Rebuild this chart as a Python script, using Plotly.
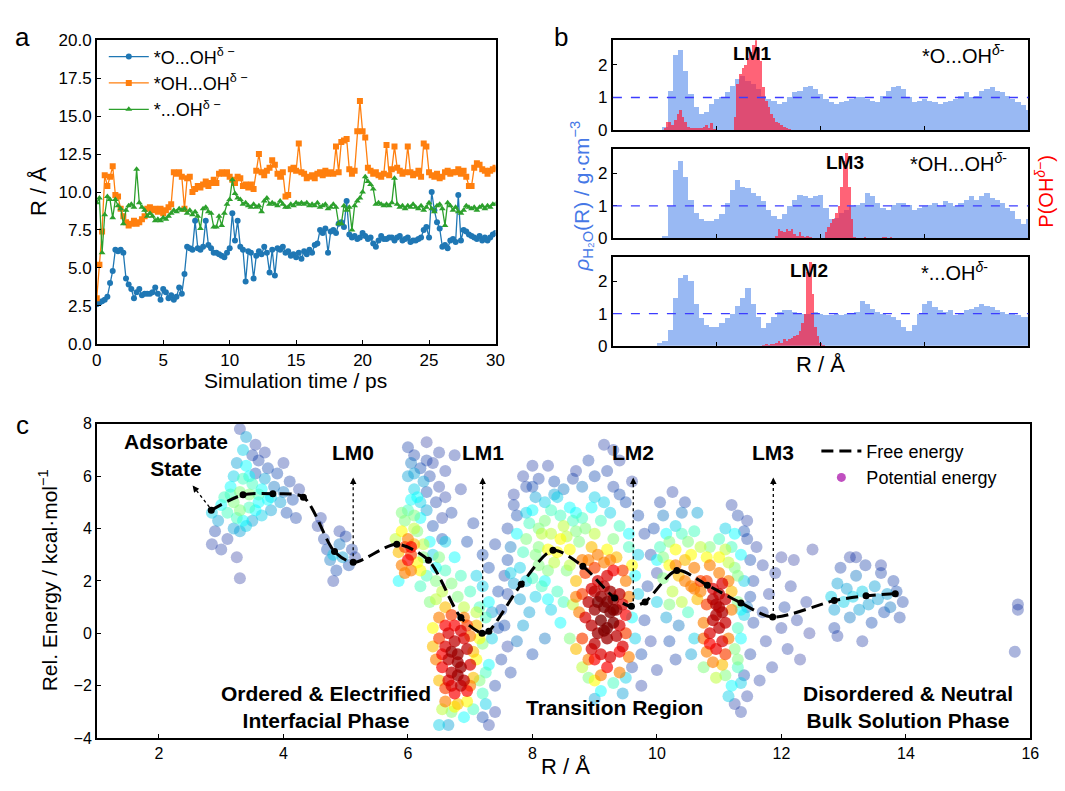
import plotly.graph_objects as go

FONT = "Liberation Sans, Arial, sans-serif"

# ---------------- panel a : R(t) ----------------
t_step_ps = 0.2
t_ps = [round(i * t_step_ps, 1) for i in range(151)]

r_O_OH = [2.6, 2.7, 2.8, 2.9, 3.1, 4.0, 4.8, 6.2, 6.1, 6.2,
          6.0, 4.3, 3.9, 3.6, 3.0, 3.4, 3.6, 3.2, 3.3, 3.3,
          3.3, 3.4, 3.7, 3.3, 2.9, 3.6, 3.4, 3.0, 3.2, 2.9,
          3.1, 3.7, 3.3, 4.6, 6.4, 6.3, 6.2, 8.1, 6.3, 6.2,
          6.4, 8.1, 6.5, 6.3, 6.0, 6.0, 5.9, 5.8, 5.7, 6.0,
          6.3, 8.6, 6.8, 8.1, 6.4, 6.2, 4.1, 6.1, 6.0, 4.3,
          5.8, 6.1, 5.9, 6.4, 6.0, 4.7, 6.2, 4.5, 6.3, 6.2,
          6.4, 6.0, 6.1, 5.8, 5.9, 5.7, 6.0, 5.6, 6.1, 5.9,
          6.2, 6.0, 6.5, 6.6, 7.5, 7.3, 7.6, 6.0, 7.4, 7.5,
          7.3, 7.9, 8.0, 7.7, 9.4, 7.2, 7.0, 7.1, 6.9, 7.0,
          7.3, 7.1, 6.9, 7.0, 6.6, 6.4, 6.8, 7.1, 6.9, 6.9,
          7.0, 7.0, 6.8, 7.0, 7.1, 6.8, 6.9, 7.0, 6.7, 6.8,
          6.8, 6.9, 7.0, 7.5, 7.7, 7.0, 10.0, 8.8, 8.0, 7.6,
          6.4, 6.5, 6.3, 6.8, 6.9, 6.7, 9.8, 6.8, 7.5, 7.4,
          7.2, 7.1, 7.0, 6.9, 7.1, 6.8, 7.0, 6.8, 7.0, 7.2,
          7.3]

r_OH_OH = [3.0, 5.2, 7.4, 11.1, 10.4, 11.0, 11.7, 9.8, 9.7, 8.9,
           8.4, 8.0, 7.8, 7.9, 8.1, 7.9, 8.0, 8.2, 8.4, 8.9,
           9.0, 8.8, 8.9, 8.7, 8.9, 8.6, 8.8, 9.0, 9.2, 11.3,
           11.2, 11.3, 11.0, 8.9, 10.9, 11.0, 10.0, 10.2, 10.4, 10.3,
           10.5, 10.7, 10.4, 10.6, 10.8, 10.6, 11.2, 11.3, 11.2, 11.3,
           11.0, 10.8, 10.6, 11.0, 10.9, 10.4, 10.5, 10.3, 10.5, 10.2,
           11.4, 12.5, 11.3, 11.1, 11.4, 11.6, 12.1, 11.8, 11.2, 11.0,
           11.3, 9.7, 9.8, 11.5, 11.6, 11.4, 13.2, 11.3, 11.2, 10.9,
           11.0, 11.1, 10.9, 11.2, 11.3, 11.1, 11.4, 11.2, 11.3, 11.2,
           13.0, 11.3, 13.3, 13.4, 13.5, 11.5, 11.2, 11.4, 14.0, 16.0,
           14.0, 13.6, 11.6, 11.4, 11.2, 11.3, 11.1, 11.0, 11.2, 13.1,
           11.1, 11.5, 13.0, 11.6, 11.4, 11.2, 11.3, 13.0, 11.3, 11.1,
           11.2, 11.4, 11.0, 13.2, 13.0, 11.3, 11.1, 11.0, 11.2, 10.9,
           11.0, 11.3, 11.4, 11.2, 11.3, 11.3, 11.5, 11.2, 11.4, 11.0,
           10.4, 10.4, 11.6, 11.9, 11.8, 11.5, 11.4, 11.2, 11.4, 11.5,
           11.6]

r_star_OH = [9.3, 9.6, 6.0, 8.5, 9.7, 9.5, 8.3, 9.5, 9.1, 8.9,
             7.9, 8.8, 9.1, 9.2, 9.0, 11.5, 9.3, 9.0, 8.8, 8.4,
             8.6, 8.4, 8.1, 8.2, 8.1, 8.3, 8.2, 8.4, 8.6, 8.8,
             8.7, 8.9, 8.8, 8.9, 8.6, 8.8, 8.5, 8.7, 8.4, 7.6,
             8.9, 9.0, 8.7, 8.6, 7.7, 7.7, 8.4, 7.8, 8.6, 9.2,
             9.5, 10.8, 9.9, 9.6, 9.5, 9.2, 9.3, 9.1, 9.0, 9.2,
             9.0, 9.1, 8.7, 9.4, 9.6, 9.2, 9.3, 9.2, 9.1, 9.4,
             9.2, 9.0, 9.0, 9.2, 9.1, 9.3, 9.2, 9.3, 9.2, 9.3,
             9.1, 9.2, 9.1, 9.3, 9.0, 9.1, 9.2, 8.9, 9.0, 9.2,
             9.0, 7.9, 7.9, 9.1, 8.8, 9.0, 7.5, 9.1, 9.4, 9.6,
             10.0, 11.0, 10.7, 10.5, 10.2, 9.2, 9.3, 9.2, 9.1, 9.2,
             9.1, 9.3, 10.9, 9.2, 9.0, 9.1, 8.9, 9.1, 9.0, 9.2,
             9.0, 8.9, 9.1, 8.8, 9.0, 9.3, 8.9, 8.7, 9.1, 9.2,
             8.9, 7.8, 9.3, 9.1, 8.8, 9.0, 8.7, 8.6, 8.8, 9.1,
             9.0, 8.9, 9.0, 8.8, 9.0, 9.1, 8.9, 9.1, 9.0, 9.2,
             9.2]

series_a = [
    ("*O...OH<sup>δ −</sup>", r_O_OH, "#1f77b4", "circle"),
    ("*OH...OH<sup>δ −</sup>", r_OH_OH, "#ff7f0e", "square"),
    ("*...OH<sup>δ −</sup>", r_star_OH, "#2ca02c", "triangle-up"),
]

# ---------------- panel b : water density + OH- probability ----------------
rho_step = 0.2
rho_R = [round(1.8 + rho_step * i, 1) for i in range(72)]

rho_O_OH = [0, 0.1, 1.2, 2.3, 2.45, 1.8, 1.1, 0.7, 0.5, 0.55,
            0.8, 0.95, 1.0, 1.15, 1.35, 1.55, 1.65, 1.5, 1.4, 1.25,
            1.05, 0.95, 0.9, 0.8, 0.85, 1.0, 1.15, 1.2, 1.3, 1.35,
            1.25, 1.1, 0.95, 0.85, 0.8, 0.85, 0.9, 0.95, 1.0, 1.0,
            0.95, 0.9, 0.85, 1.05, 1.2, 1.3, 1.35, 1.25, 1.0, 0.85,
            0.9, 0.95, 0.9, 0.85, 0.8, 0.85, 0.9, 0.95, 1.05, 1.15,
            1.0, 1.05, 1.2, 1.25, 1.3, 1.2, 1.15, 1.05, 0.95, 0.85,
            0.75, 0.6]
rho_OH_OH = [0, 0.1, 1.0, 2.1, 2.4, 1.9, 1.2, 0.8, 0.6, 0.55,
             0.55, 0.6, 0.75, 1.1, 1.5, 1.8, 1.6, 1.55, 1.4, 1.3,
             1.15, 0.9, 0.7, 0.6, 0.75, 1.0, 1.2, 1.35, 1.3, 1.25,
             1.3, 1.35, 0.95, 0.6, 0.65, 0.8, 0.9, 1.0, 1.05, 1.1,
             1.4, 1.3, 1.1, 0.95, 0.9, 1.05, 1.1, 1.1, 1.05, 0.9,
             0.95, 1.0, 1.05, 1.1, 1.0, 1.15, 1.1, 1.0, 1.1, 1.2,
             1.3, 1.2, 1.3, 1.4, 1.25, 1.2, 1.1, 0.95, 0.85, 0.6,
             0.45, 0.6]
rho_star_OH = [0.1, 0.15, 0.5, 1.5, 2.1, 2.2, 2.0, 1.3, 0.85, 0.65,
               0.6, 0.6, 0.7, 0.85, 1.0, 1.25, 1.5, 1.8, 1.3, 0.9,
               0.55, 0.7, 0.9, 1.05, 1.1, 1.1, 1.05, 1.0, 1.0, 1.0,
               1.05, 1.0, 0.95, 0.95, 1.0, 0.95, 1.0, 1.0, 1.05, 1.4,
               1.3, 1.15, 1.05, 1.0, 0.95, 0.9, 0.8, 0.6, 0.45, 0.65,
               1.0, 1.3, 1.4, 1.2, 1.1, 1.05, 1.1, 0.95, 1.0, 1.1,
               1.15, 1.2, 1.3, 1.25, 1.2, 1.1, 1.05, 1.0, 1.0, 0.95,
               0.9, 0.9]

p_R_O_OH = [2.0, 2.1, 2.2, 2.3, 2.4, 2.5, 2.6, 2.7, 2.8, 2.9,
            3.0, 3.1, 3.2, 3.3, 3.4, 3.5, 3.6, 3.7, 3.8, 3.9,
            4.7, 4.8, 4.9, 5.0, 5.1, 5.2, 5.3, 5.4, 5.5, 5.6,
            5.7, 5.8, 5.9, 6.0, 6.1, 6.2, 6.3, 6.4, 6.5, 6.6,
            6.7, 6.8]
p_O_OH = [0.05, 0.25, 0.25, 0.15, 0.3, 0.5, 0.6, 0.4, 0.25, 0.1,
          0.05, 0.05, 0.05, 0.04, 0.05, 0.1, 0.15, 0.05, 0.2, 0.03,
          0.4, 1.4, 1.7, 1.9, 2.0, 2.2, 2.4, 2.6, 2.75, 2.5,
          2.1, 1.3, 0.9, 0.7, 0.5, 0.35, 0.25, 0.2, 0.15, 0.08,
          0.05, 0.03]
p_R_OH_OH = [6.3, 6.4, 6.5, 6.6, 6.7, 6.8, 6.9, 7.0, 7.1, 7.2,
             7.3, 7.4, 7.5, 7.6, 7.7,
             8.2, 8.3, 8.4, 8.5, 8.6, 8.7, 8.8, 8.9, 9.0, 9.1, 9.2, 9.3,
             9.7, 9.8, 10.4, 10.5, 10.6, 10.7, 10.8]
p_OH_OH = [0.1, 0.3, 0.25, 0.2, 0.3, 0.25, 0.3, 0.15, 0.1, 0.2,
           0.1, 0.05, 0.1, 0.05, 0.03,
           0.2, 0.35, 0.5, 0.6, 0.8, 1.0, 1.6, 2.4, 2.65, 1.6, 0.6, 0.05,
           0.04, 0.03, 0.04, 0.05, 0.03, 0.04, 0.02]
p_R_star_OH = [5.8, 5.9, 6.0, 6.1, 6.2, 6.3, 6.4, 6.5, 6.6, 6.7,
               6.8, 6.9, 7.0, 7.1, 7.2, 7.3, 7.4, 7.5, 7.6, 7.7,
               7.8, 7.9, 8.0, 8.1]
p_star_OH = [0.03, 0.05, 0.03, 0.05, 0.05, 0.1, 0.15, 0.1, 0.2, 0.15,
             0.2, 0.25, 0.3, 0.35, 0.45, 0.7, 1.0, 2.3, 2.6, 1.6,
             0.6, 0.3, 0.1, 0.03]

panels_b = [
    ("x2", "y2", rho_O_OH, p_R_O_OH, p_O_OH, "LM1", 5.35, "*O...OH<sup><i>δ</i>-</sup>", 13.5),
    ("x3", "y3", rho_OH_OH, p_R_OH_OH, p_OH_OH, "LM3", 8.95, "*OH...OH<sup><i>δ</i>-</sup>", 13.3),
    ("x4", "y4", rho_star_OH, p_R_star_OH, p_star_OH, "LM2", 7.55, "*...OH<sup><i>δ</i>-</sup>", 13.15),
]

# ---------------- panel c : free energy + potential energy cloud ----------------
fe_R = [2.84, 3.35, 3.83, 4.32, 4.82, 5.12, 5.82, 6.33, 6.85, 7.19, 7.30, 7.82,
        8.33, 8.81, 9.32, 9.59, 9.81, 10.32, 10.81, 11.35, 11.86, 12.85, 13.36, 13.83]
fe_E = [4.70, 5.29, 5.33, 5.20, 3.12, 2.71, 3.40, 2.79, 0.60, 0.00, 0.08, 1.87,
        3.17, 2.56, 1.35, 1.03, 1.20, 2.40, 1.84, 1.16, 0.62, 1.25, 1.43, 1.51]

lm_names = ["LM0", "LM1", "LM2", "LM3"]
lm_R = [5.12, 7.20, 9.62, 11.87]
lm_E = [2.71, 0.00, 1.00, 0.62]
lm_arrow_top = 5.95

# potential-energy samples: (R, E, local density 0..1)
pe_adsorbate = [(2.85, 3.4, .1), (2.9, 3.9, .15), (2.95, 4.3, .3), (2.85, 4.6, .35), (3.0, 4.9, .4),
                (3.05, 5.2, .45), (3.1, 4.6, .45), (3.15, 5.6, .4), (3.2, 6.0, .35), (3.25, 6.5, .3),
                (3.2, 5.0, .5), (3.25, 4.4, .45), (3.3, 3.9, .3), (3.3, 5.4, .5), (3.35, 5.9, .45),
                (3.35, 7.0, .35), (3.4, 7.5, .3), (3.4, 6.4, .4), (3.45, 4.8, .45), (3.45, 5.3, .5),
                (3.5, 5.7, .45), (3.5, 6.8, .15), (3.55, 7.2, .1), (3.55, 6.1, .2), (3.6, 6.6, .15),
                (3.6, 5.0, .4), (3.65, 4.5, .35), (3.65, 5.5, .4), (3.7, 5.9, .3), (3.75, 6.3, .2),
                (3.8, 5.2, .35), (3.8, 4.7, .3), (3.85, 5.6, .25), (3.9, 6.1, .2), (3.95, 5.0, .3),
                (4.0, 5.4, .25), (4.05, 4.6, .2), (4.1, 5.8, .15), (4.15, 5.1, .2), (4.2, 4.4, .15),
                (4.25, 5.5, .1), (3.1, 3.6, .1), (3.25, 2.9, .05), (3.3, 2.1, .05), (3.0, 3.2, .1),
                (3.4, 4.1, .35), (3.5, 4.3, .3), (3.7, 6.9, .1), (4.0, 6.5, .1), (3.3, 7.8, .1),
                (3.3, 4.7, .5), (3.45, 6.0, .4), (3.15, 5.3, .45), (3.6, 5.3, .45), (3.35, 4.3, .4),
                (3.55, 4.7, .4), (3.75, 5.1, .4), (3.2, 4.0, .3)]
pe_lm0 = [(4.55, 4.1, .1), (4.65, 3.6, .15), (4.7, 3.2, .2), (4.75, 2.8, .25), (4.8, 3.0, .35),
          (4.85, 2.4, .2), (4.9, 3.4, .25), (4.95, 2.9, .3), (5.0, 3.7, .15), (5.05, 2.6, .2),
          (5.1, 3.2, .15), (4.8, 2.0, .1), (4.6, 4.4, .1), (5.15, 2.9, .1), (4.9, 3.9, .1)]
pe_barrier1 = [(5.8, 3.6, .55), (5.85, 3.1, .65), (5.9, 2.6, .7), (5.9, 3.9, .6), (5.95, 3.3, .75),
               (6.0, 2.8, .8), (6.0, 3.6, .7), (5.95, 4.3, .5), (6.05, 3.0, .75), (6.05, 2.4, .7),
               (6.1, 3.4, .65), (6.1, 4.0, .55), (6.0, 4.7, .45), (6.05, 5.1, .4), (6.1, 5.5, .35),
               (6.0, 6.0, .3), (6.05, 6.5, .25), (6.0, 7.1, .15), (6.1, 4.5, .5), (6.15, 2.7, .6),
               (6.15, 3.9, .5), (6.2, 4.4, .4), (6.2, 5.0, .35), (6.25, 5.8, .3), (6.2, 6.3, .2),
               (6.3, 4.7, .3), (6.3, 5.4, .2), (6.35, 6.0, .15), (6.35, 3.5, .4), (6.3, 2.2, .45),
               (6.4, 4.1, .2), (6.4, 6.5, .1), (6.45, 5.0, .15), (6.5, 5.6, .1), (6.55, 4.4, .1),
               (6.5, 6.9, .1), (5.85, 2.0, .4), (6.2, 1.8, .45), (6.25, 2.9, .5), (6.4, 3.0, .35),
               (6.45, 2.5, .4), (6.1, 6.8, .15), (6.55, 3.6, .2), (6.6, 5.2, .1), (6.3, 7.3, .05),
               (5.95, 2.3, .7), (6.05, 3.3, .8), (5.9, 4.6, .5), (6.15, 5.2, .4), (6.25, 3.4, .55),
               (6.2, 2.4, .6), (6.1, 6.1, .3), (6.3, 6.6, .15)]
pe_lm1 = [(6.6, -0.5, .85), (6.65, -1.0, .9), (6.7, -1.5, .9), (6.75, -0.3, .9), (6.8, -0.8, .95),
          (6.85, -1.3, .95), (6.7, -2.0, .85), (6.9, -1.8, .9), (6.95, -0.6, .9), (6.85, 0.1, .85),
          (6.75, -2.3, .8), (6.6, 0.3, .8), (6.65, -1.8, .85), (6.8, -1.1, .95), (6.9, -0.2, .85),
          (7.0, -1.2, .85), (6.95, -2.2, .8), (6.55, -1.3, .8), (6.7, -0.7, .95), (6.8, -1.6, .95),
          (6.6, -2.1, .75), (6.75, 0.3, .8), (6.65, 0.0, .85), (6.55, -0.8, .8), (6.85, -2.0, .9),
          (6.5, -0.2, .75), (6.45, -1.0, .7), (6.5, 0.6, .7), (6.6, 1.0, .65), (6.7, 0.7, .75),
          (6.9, 0.6, .7), (7.0, -0.1, .7), (7.05, -0.7, .65), (7.05, -1.7, .65), (7.1, 0.3, .65),
          (7.1, -1.0, .6), (6.6, -2.6, .7), (6.8, -2.7, .65), (6.95, -2.6, .6), (6.5, -1.8, .65),
          (6.4, -0.5, .65), (6.75, -2.8, .6), (6.95, 0.3, .75), (7.0, -2.0, .7), (7.15, -0.2, .6),
          (7.1, 0.8, .55), (6.4, 0.2, .6),
          (7.15, -1.8, .5), (7.2, -2.3, .45), (7.2, -0.4, .5), (7.25, 0.6, .45), (7.3, -1.2, .4),
          (7.3, 1.2, .4), (7.25, -2.7, .35), (7.05, -2.9, .45), (6.9, -3.2, .4), (6.7, -3.0, .5),
          (6.55, -2.9, .55), (6.5, -3.5, .35), (6.65, -3.5, .3), (6.8, 1.4, .5), (6.7, 1.9, .5),
          (6.55, 1.6, .55), (6.6, 2.4, .45), (6.75, 2.9, .4), (6.85, 2.2, .45), (6.5, 2.9, .5),
          (6.6, 3.5, .35), (6.9, 1.0, .55), (7.0, 1.6, .45), (7.1, 2.2, .35), (7.15, 1.0, .45),
          (6.45, 1.3, .55), (7.35, -0.2, .35), (6.45, 2.0, .5), (6.35, 1.2, .5), (7.25, -1.5, .45),
          (7.2, 1.8, .35), (7.35, 0.8, .3),
          (7.4, -2.0, .15), (7.45, 0.2, .2), (7.5, -1.0, .15), (7.45, 1.6, .2), (7.55, 2.2, .15),
          (7.4, -3.0, .1), (7.3, -3.5, .1), (7.6, -0.5, .1), (7.5, 0.9, .2), (7.2, -3.2, .2),
          (7.6, 1.5, .15), (6.95, 3.5, .2), (7.2, 3.0, .2), (7.05, 4.2, .15), (6.7, 4.6, .15),
          (6.85, 5.5, .1), (6.6, 6.2, .1), (6.75, 6.8, .1), (7.3, 2.5, .2), (7.4, 3.4, .15)]
pe_barrier2 = [(7.7, 1.9, .3), (7.8, 2.5, .35), (7.85, 3.1, .45), (7.9, 3.6, .5), (7.95, 4.2, .45),
               (8.0, 4.7, .4), (8.05, 5.2, .3), (7.9, 5.6, .15), (7.85, 6.0, .1), (8.0, 6.4, .1),
               (8.1, 5.9, .15), (8.15, 3.8, .55), (8.2, 4.3, .5), (8.25, 3.2, .6), (8.3, 4.7, .45),
               (8.35, 2.7, .55), (8.4, 5.2, .35), (8.45, 3.6, .6), (8.5, 4.1, .55), (8.55, 2.4, .5),
               (8.6, 4.8, .4), (8.2, 2.0, .4), (8.05, 1.4, .35), (7.95, 0.8, .3), (7.75, -0.3, .25),
               (7.85, 0.3, .3), (8.1, 2.6, .5), (7.75, 4.5, .2), (7.65, 3.3, .25), (7.7, 5.3, .1),
               (8.35, 5.8, .2), (8.5, 5.5, .25), (8.65, 5.9, .15), (8.7, 6.2, .1), (7.6, 2.8, .2),
               (8.4, 1.6, .45), (8.3, 0.9, .35), (8.0, -0.8, .2), (8.2, -0.2, .25), (8.45, 0.4, .4),
               (7.8, 1.3, .3), (8.6, 3.2, .6), (8.1, 3.3, .5), (7.6, 4.0, .15), (8.25, 6.4, .1),
               (7.65, 2.3, .35), (7.75, 3.8, .4), (7.9, 4.6, .35), (8.0, 2.1, .45), (8.05, 3.0, .5),
               (8.1, 4.0, .5), (8.15, 1.8, .45), (8.25, 2.4, .5), (8.3, 3.8, .55), (8.4, 3.1, .6),
               (8.45, 4.5, .45), (8.55, 3.7, .55), (8.6, 2.6, .55), (8.65, 4.3, .45), (8.35, 5.3, .3),
               (8.0, 5.6, .2), (7.7, 4.9, .15), (8.5, 1.2, .45), (8.25, 1.3, .4), (7.9, 2.0, .35),
               (8.7, 3.9, .5), (8.2, 5.0, .35), (7.55, 0.3, .2), (7.65, -1.5, .15)]
pe_lm2 = [(9.1, 0.5, 1), (9.15, 1.0, 1), (9.2, 0.2, 1), (9.25, 0.8, 1), (9.3, 1.3, .95),
          (9.2, -0.2, .95), (9.1, 1.4, .95), (9.05, 0.0, .95), (9.3, 0.4, 1), (9.35, -0.1, .9),
          (9.15, 1.8, .9), (9.25, 1.6, .95), (9.0, 0.9, .95), (9.35, 0.9, .95), (9.4, 1.5, .9),
          (9.05, 1.2, 1), (9.2, 1.2, 1), (9.3, 0.9, 1), (9.15, 0.1, 1), (9.0, 1.6, .9),
          (8.95, 0.3, .9), (9.0, -0.4, .9), (8.9, 1.2, .9), (8.95, 1.7, .85), (9.05, 2.0, .85),
          (9.2, 2.2, .85), (9.4, 0.3, .85), (9.45, -0.5, .85), (9.1, -0.8, .85), (9.25, -0.9, .85),
          (8.85, 0.6, .85), (9.3, 2.4, .8), (9.45, 1.1, .85), (9.0, -1.0, .8), (9.2, -1.3, .8),
          (8.95, -0.6, .85), (9.4, -0.7, .8), (9.5, 0.7, .8),
          (8.8, 1.5, .75), (8.8, -0.2, .75), (8.75, 0.8, .7), (8.85, 2.3, .75), (8.9, 2.8, .7),
          (9.0, 2.5, .75), (9.15, 2.7, .7), (9.35, 2.9, .65), (9.5, 2.0, .7), (9.5, 0.0, .75),
          (9.55, -0.9, .7), (9.4, -1.5, .7), (9.1, -1.6, .7), (8.9, -1.0, .7), (8.7, -0.6, .65),
          (9.55, 1.4, .7), (9.6, 2.6, .6), (8.95, 3.3, .65), (9.2, 3.2, .6), (8.7, 2.0, .65),
          (9.45, 2.4, .75), (8.8, 2.8, .7), (9.05, 3.0, .7), (9.25, 2.8, .7), (8.7, 1.4, .7),
          (9.0, -1.8, .6),
          (8.75, 3.5, .5), (8.85, 4.0, .5), (9.0, 3.8, .55), (9.1, 4.3, .45), (9.3, 3.6, .5),
          (9.4, 4.1, .45), (9.55, 3.3, .45), (8.7, 4.6, .4), (8.95, 4.8, .4), (9.25, 4.6, .35),
          (9.6, 0.6, .4), (9.65, -0.2, .35), (9.7, 1.5, .35), (9.65, 2.2, .4), (9.3, -1.9, .45),
          (9.1, -2.2, .4), (8.9, -1.7, .5), (9.5, -1.7, .35), (9.0, -2.5, .3), (8.8, -1.3, .55),
          (9.7, 3.0, .35), (9.45, -2.3, .3), (9.0, 5.2, .35), (8.6, -0.2, .5), (8.65, 1.1, .55),
          (9.55, 3.8, .4), (8.8, 4.4, .45), (9.15, 5.0, .35), (9.4, 5.3, .2),
          (9.75, -0.8, .2), (9.8, 0.5, .15), (9.85, 1.8, .15), (9.9, 3.0, .15), (9.8, 3.8, .15),
          (9.7, 4.5, .2), (9.5, 5.0, .2), (9.3, 5.6, .15), (9.2, 6.2, .15), (9.4, 6.6, .1),
          (9.15, 7.2, .1), (9.0, 6.0, .2), (9.6, -1.3, .15), (9.75, -2.0, .1), (8.8, 5.6, .25),
          (9.6, 5.8, .1), (10.0, 2.3, .1), (9.9, -0.3, .1), (9.3, 7.0, .1), (8.9, 6.6, .15)]
pe_barrier3 = [(10.0, 2.8, .4), (10.05, 3.3, .45), (10.1, 2.1, .5), (10.15, 3.8, .4), (10.2, 2.6, .6),
               (10.25, 1.6, .55), (10.3, 3.2, .6), (10.35, 2.2, .65), (10.4, 1.2, .55), (10.45, 2.8, .65),
               (10.5, 3.5, .5), (10.55, 1.8, .7), (10.6, 2.5, .7), (10.65, 1.3, .65), (10.3, 4.1, .35),
               (10.1, 4.5, .25), (10.4, 4.6, .25), (10.6, 3.9, .45), (10.0, 1.2, .35), (10.15, 0.6, .3),
               (10.35, 0.3, .25), (10.5, 0.8, .45), (10.2, -0.3, .2), (10.6, -0.2, .35), (10.05, 5.0, .15),
               (10.25, 5.4, .1), (10.45, 5.0, .15), (10.65, 4.6, .3), (9.95, 4.0, .2), (10.7, 3.3, .55),
               (10.55, -0.8, .3), (10.3, -1.0, .15), (10.0, -1.4, .1), (10.7, 2.0, .75), (10.2, 1.1, .5),
               (10.3, 2.6, .7), (10.45, 2.0, .7), (10.2, 3.5, .5), (10.55, 3.0, .6), (10.1, 2.9, .5),
               (10.4, 3.8, .45), (10.6, 1.7, .7)]
pe_lm3 = [(10.9, 0.5, .9), (10.95, 1.1, .92), (11.0, 0.2, .9), (11.05, 0.8, .92), (11.0, 1.5, .9),
          (10.9, 1.7, .85), (11.1, 1.3, .88), (10.85, 0.0, .85), (11.05, -0.3, .85), (10.95, -0.6, .82),
          (11.1, 0.4, .88), (11.0, 1.0, .92), (10.9, 1.3, .9), (11.05, 1.9, .85), (10.95, 0.7, .92),
          (10.85, -0.4, .8),
          (10.8, 1.1, .75), (10.75, 0.4, .7), (10.8, 2.0, .75), (10.85, 2.6, .7), (11.0, 2.3, .7),
          (11.15, 2.0, .7), (11.15, -0.2, .7), (10.8, -0.7, .7), (10.9, -1.1, .7), (11.05, -1.2, .65),
          (11.2, 0.9, .7), (11.2, 1.6, .65), (10.7, 1.6, .7), (11.0, 2.9, .6), (10.75, -0.2, .72),
          (11.1, -0.8, .75), (10.8, 2.9, .6),
          (11.25, -0.6, .5), (11.3, 0.2, .45), (11.25, 2.5, .5), (11.3, 1.2, .5), (11.35, 3.0, .4),
          (11.2, 3.3, .45), (11.0, 3.6, .45), (10.85, 3.3, .5), (11.3, -1.3, .45), (11.1, -1.6, .5),
          (11.2, -2.0, .4), (11.35, -1.9, .35), (11.4, 0.7, .35), (11.4, 2.0, .35), (11.1, 4.0, .35),
          (10.95, -1.7, .55), (11.35, -0.2, .4), (11.15, 2.7, .55), (11.1, 3.2, .55), (11.25, 3.8, .4),
          (11.3, 2.2, .5), (11.35, 0.9, .4), (11.3, -1.0, .5), (11.15, -2.4, .35), (10.75, -1.3, .5),
          (11.45, 3.6, .15), (11.5, 2.8, .2), (11.45, 4.3, .1), (11.3, 4.5, .15), (11.2, 4.9, .1),
          (11.5, 1.4, .2), (11.55, 0.4, .15), (11.5, -0.8, .15), (11.45, -2.4, .1), (11.25, -2.7, .1),
          (11.55, 2.0, .15), (11.4, 3.9, .2), (11.6, 3.3, .1), (11.35, -3.0, .1), (11.45, 1.0, .25),
          (11.4, -1.6, .2)]
pe_after_lm3 = [(11.7, 0.8, .15), (11.75, -0.3, .1), (11.8, 1.5, .1), (11.85, -1.3, .1), (11.9, 2.3, .1),
                (12.0, 0.2, .1), (12.05, 1.0, .15), (12.1, -0.6, .1), (12.15, 1.8, .1), (12.2, 2.8, .05),
                (12.25, 0.5, .1), (12.3, -1.0, .05), (12.4, 1.2, .1), (12.5, 3.2, .05), (11.65, -1.8, .1),
                (12.0, 2.9, .05), (11.7, 2.6, .1), (12.45, 0.0, .05)]
pe_bulk = [(12.8, 1.4, .35), (12.85, 0.9, .3), (12.9, 1.9, .3), (12.95, 2.5, .15), (12.85, 0.2, .15),
           (13.0, 1.2, .35), (13.05, 1.7, .3), (13.1, 0.6, .25), (13.1, 2.9, .1), (13.15, 1.4, .35),
           (13.2, 2.2, .25), (13.25, 0.9, .3), (13.3, 1.6, .35), (13.3, -0.3, .1), (13.35, 2.6, .15),
           (13.4, 1.1, .3), (13.45, 0.4, .2), (13.5, 1.8, .3), (13.55, 1.3, .3), (13.6, 2.3, .15),
           (13.65, 0.8, .2), (13.7, 1.5, .3), (13.75, 1.0, .25), (13.8, 2.0, .15), (13.85, 1.6, .2),
           (13.9, 0.6, .15), (13.95, 1.2, .15), (12.9, -0.1, .1), (13.2, 2.9, .1), (13.6, 2.6, .1),
           (15.8, 1.1, .1), (15.8, 0.9, .1), (15.75, -0.7, .1)]

pe_all = sorted(pe_adsorbate + pe_lm0 + pe_barrier1 + pe_lm1 + pe_barrier2 +
                pe_lm2 + pe_barrier3 + pe_lm3 + pe_after_lm3 + pe_bulk, key=lambda p: p[2])
pe_R = [p[0] for p in pe_all]
pe_E = [p[1] for p in pe_all]
pe_D = [p[2] for p in pe_all]

# ---------------- figure ----------------
fig = go.Figure()

for name, vals, col, sym in series_a:
    fig.add_trace(go.Scatter(x=t_ps, y=vals, mode="lines+markers", name=name,
                             line=dict(color=col, width=1.3),
                             marker=dict(color=col, symbol=sym, size=6),
                             xaxis="x", yaxis="y", legend="legend"))

blue_fill = "rgba(100,149,237,0.66)"
red_fill = "rgba(255,25,55,0.68)"
for xa, ya, rho, pR, pP, lm, lmx, lab, labx in panels_b:
    fig.add_trace(go.Bar(x=rho_R, y=rho, width=rho_step, marker=dict(color=blue_fill, line=dict(width=0)),
                         showlegend=False, hoverinfo="skip", xaxis=xa, yaxis=ya))
    fig.add_trace(go.Bar(x=pR, y=pP, width=0.1, marker=dict(color=red_fill, line=dict(width=0)),
                         showlegend=False, xaxis=xa, yaxis=ya))

fig.add_trace(go.Scatter(x=pe_R, y=pe_E, mode="markers", showlegend=False,
                         marker=dict(color=pe_D, colorscale="Jet", cmin=0, cmax=1, size=12,
                                     opacity=[0.28 + 0.5 * d for d in pe_D], line=dict(width=0)),
                         xaxis="x5", yaxis="y5"))
fig.add_trace(go.Scatter(x=fe_R, y=fe_E, mode="lines", name="Free energy",
                         line=dict(color="black", width=3, dash="12px,6px", shape="spline", smoothing=0.8),
                         xaxis="x5", yaxis="y5", legend="legend2"))
fig.add_trace(go.Scatter(x=fe_R, y=fe_E, mode="markers", showlegend=False,
                         marker=dict(color="black", size=7), xaxis="x5", yaxis="y5"))
fig.add_trace(go.Scatter(x=[None], y=[None], mode="markers", name="Potential energy",
                         marker=dict(color="#c04fc0", size=9),
                         xaxis="x5", yaxis="y5", legend="legend2"))


def ax_common(size):
    return dict(showgrid=False, zeroline=False, showline=True, linecolor="black",
                mirror=True, ticks="inside", ticklen=4, tickcolor="black",
                tickfont=dict(family=FONT, size=size, color="black"))


ya_dom = [0.5664, 0.9595]
b_x = [0.5784, 0.9737]
b_y = [[0.8432, 0.9595], [0.7029, 0.8192], [0.5638, 0.6789]]

layout = dict(
    width=1065, height=791, margin=dict(l=0, r=0, t=0, b=0),
    paper_bgcolor="white", plot_bgcolor="white",
    font=dict(family=FONT, color="black"),
    barmode="overlay", bargap=0,
    xaxis=dict(domain=[0.0873, 0.4667], range=[0, 30], tickvals=[0, 5, 10, 15, 20, 25, 30],
               anchor="y", linewidth=1.5, **ax_common(17)),
    yaxis=dict(domain=ya_dom, range=[0, 20], tickvals=[0, 2.5, 5, 7.5, 10, 12.5, 15, 17.5, 20],
               tickformat=".1f", anchor="x", linewidth=1.5, **ax_common(17)),
    xaxis5=dict(domain=[0.0873, 0.9756], range=[1, 16], tickvals=[2, 4, 6, 8, 10, 12, 14, 16],
                anchor="y5", linewidth=1.5, **ax_common(16)),
    yaxis5=dict(domain=[0.0556, 0.4627], range=[-4, 8], tickvals=[-4, -2, 0, 2, 4, 6, 8],
                anchor="x5", linewidth=1.5, **ax_common(16)),
    legend=dict(x=0.094, y=0.962, xanchor="left", yanchor="top", bgcolor="rgba(0,0,0,0)",
                font=dict(family=FONT, size=18), tracegroupgap=0, itemwidth=40),
    legend2=dict(x=0.772, y=0.451, xanchor="left", yanchor="top", bgcolor="rgba(0,0,0,0)",
                 font=dict(family=FONT, size=18), itemwidth=40),
)
for i, (xa, ya, *_rest) in enumerate(panels_b):
    n = xa[1:]
    layout["xaxis" + n] = dict(domain=b_x, range=[0, 16], tickvals=[4, 8, 12], showticklabels=False,
                               anchor="y" + n, linewidth=2, **ax_common(17))
    layout["yaxis" + n] = dict(domain=b_y[i], range=[0, 2.76], tickvals=[0, 1, 2],
                               anchor="x" + n, linewidth=2, **ax_common(17))
fig.update_layout(**layout)

shapes = []
annotations = []
for xa, ya, rho, pR, pP, lm, lmx, lab, labx in panels_b:
    shapes.append(dict(type="line", xref=xa + " domain", yref=ya, x0=0, x1=1, y0=1, y1=1,
                       line=dict(color="rgb(60,60,255)", width=1.3, dash="dash")))
    annotations.append(dict(x=lmx, y=2.34, xref=xa, yref=ya, text="<b>" + lm + "</b>", showarrow=False,
                            font=dict(family=FONT, size=19, color="black")))
    annotations.append(dict(x=labx, y=2.32, xref=xa, yref=ya, text=lab, showarrow=False,
                            font=dict(family=FONT, size=20, color="black")))

# LM arrows in panel c
for name, r, e in zip(lm_names, lm_R, lm_E):
    shapes.append(dict(type="line", xref="x5", yref="y5", x0=r, x1=r, y0=e, y1=lm_arrow_top - 0.2,
                       line=dict(color="black", width=1.3, dash="dot")))
    annotations.append(dict(x=r, y=lm_arrow_top, ax=r, ay=lm_arrow_top - 0.35, xref="x5", yref="y5",
                            axref="x5", ayref="y5", text="", showarrow=True, arrowhead=2,
                            arrowsize=1, arrowwidth=1.3, arrowcolor="black"))
    annotations.append(dict(x=r, y=6.9, xref="x5", yref="y5", text="<b>" + name + "</b>", showarrow=False,
                            font=dict(family=FONT, size=21, color="black")))

# adsorbate arrow
shapes.append(dict(type="line", xref="x5", yref="y5", x0=fe_R[0] - 0.03, y0=fe_E[0] + 0.12,
                   x1=2.58, y1=5.52, line=dict(color="black", width=1.3, dash="dot")))
annotations.append(dict(x=2.54, y=5.64, ax=2.62, ay=5.4, xref="x5", yref="y5", axref="x5", ayref="y5",
                        text="", showarrow=True, arrowhead=2, arrowsize=1, arrowwidth=1.3,
                        arrowcolor="black"))

bold_big = dict(family=FONT, size=21, color="black")
annotations += [
    dict(x=2.27, y=6.8, xref="x5", yref="y5", text="<b>Adsorbate<br>State</b>", showarrow=False,
         font=bold_big),
    dict(x=4.68, y=-2.8, xref="x5", yref="y5", text="<b>Ordered & Electrified<br>Interfacial Phase</b>",
         showarrow=False, font=bold_big),
    dict(x=9.32, y=-2.82, xref="x5", yref="y5", text="<b>Transition Region</b>", showarrow=False,
         font=bold_big),
    dict(x=14.03, y=-2.8, xref="x5", yref="y5", text="<b>Disordered & Neutral<br>Bulk Solution Phase</b>",
         showarrow=False, font=bold_big),
]


def paper_text(xp, yp, text, size, color="black", angle=0):
    return dict(x=xp / 1065.0, y=1.0 - yp / 791.0, xref="paper", yref="paper", text=text,
                showarrow=False, textangle=angle,
                font=dict(family=FONT, size=size, color=color), xanchor="center", yanchor="middle")


annotations += [
    paper_text(18, 29, "a", 26),
    paper_text(563, 29, "b", 26),
    paper_text(18, 426, "c", 26),
    paper_text(294, 381, "Simulation time / ps", 21),
    paper_text(34, 187, "R / Å", 22, angle=-90),
    paper_text(826, 364, "R / Å", 22),
    paper_text(584, 192, "<i>ρ</i><sub>H₂O</sub>(R) / g·cm<sup>−3</sup>", 21, color="rgb(70,120,230)", angle=-90),
    paper_text(1053, 187, "P(OH<sup><i>δ</i>−</sup>)", 20, color="red", angle=-90),
    paper_text(568, 776, "R / Å", 22),
    paper_text(44, 585, "Rel. Energy / kcal·mol<sup>−1</sup>", 21, angle=-90),
]

fig.update_layout(shapes=shapes, annotations=annotations)
fig.write_html("out.html", config={"displayModeBar": False},
               post_script="document.body.style.margin='0';")
